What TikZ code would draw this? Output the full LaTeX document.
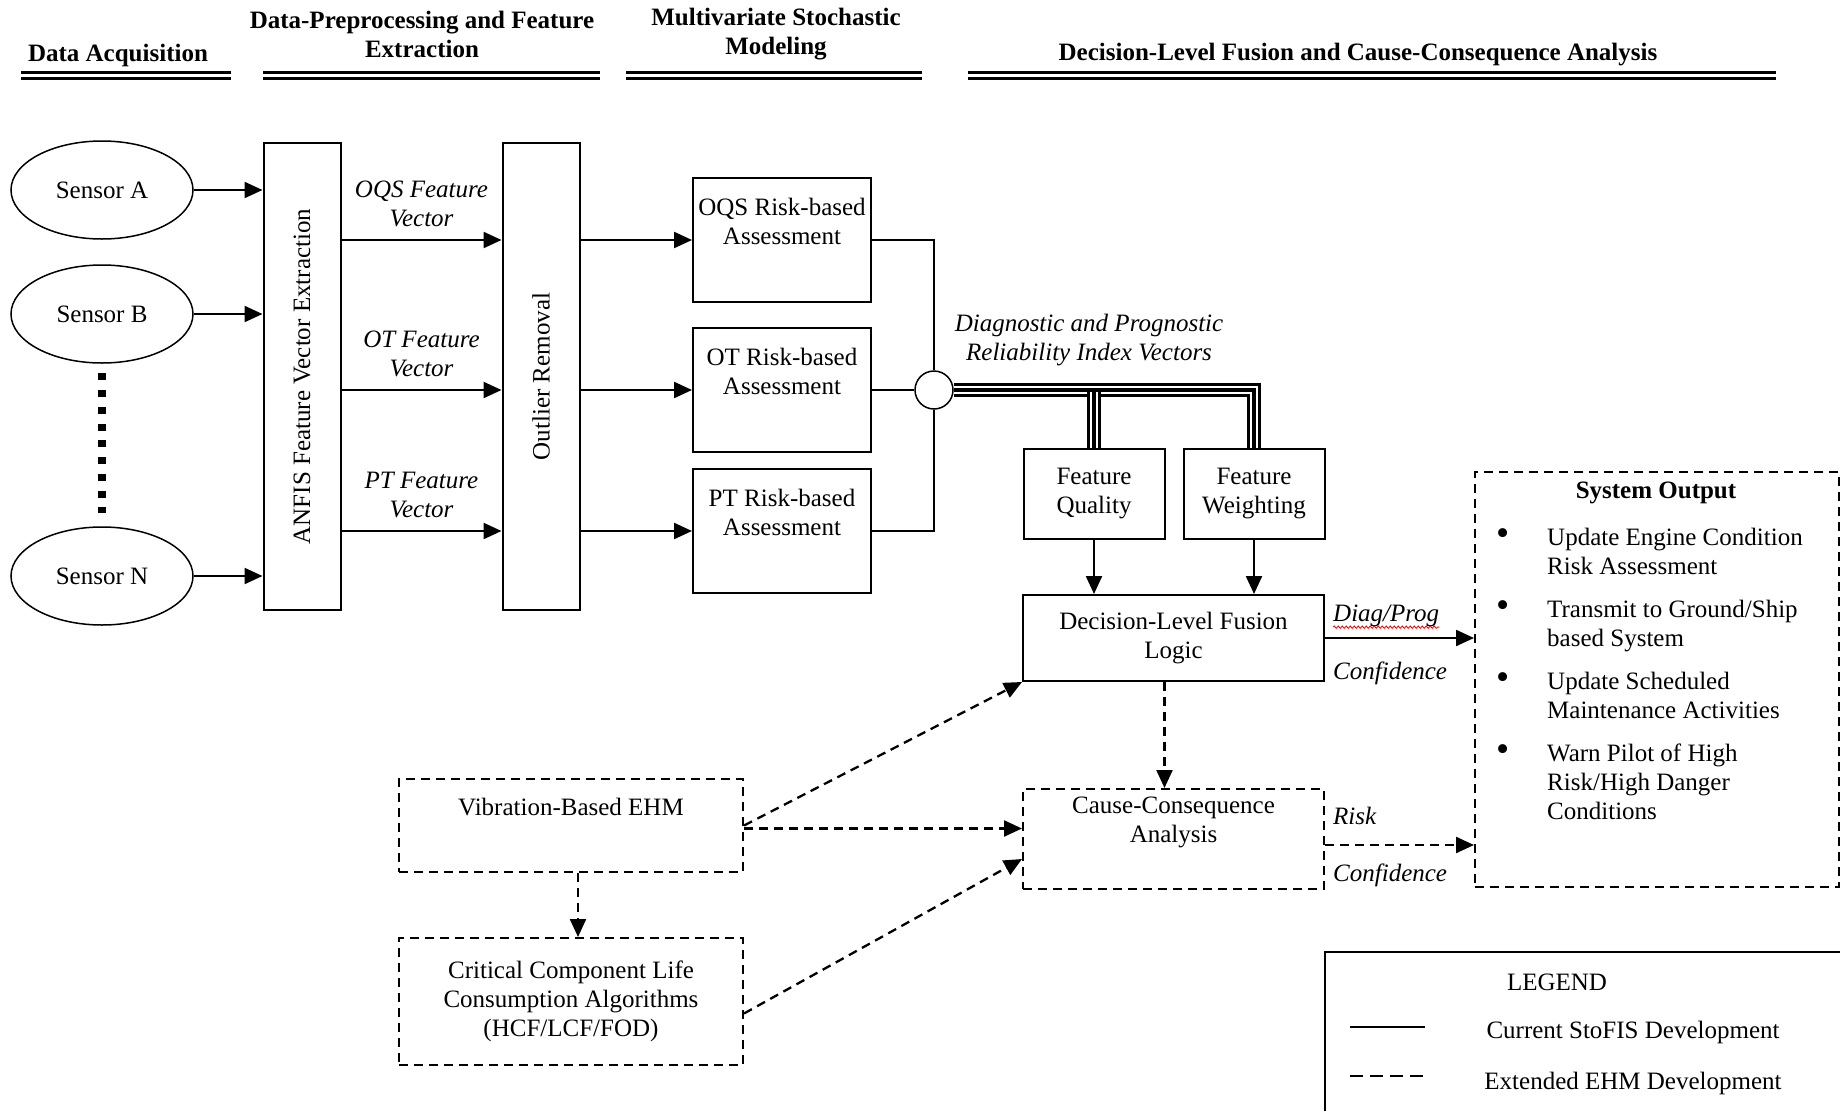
\documentclass[tikz,border=0pt]{standalone}
\usepackage{fontspec}
\setmainfont{Liberation Serif}
\usepackage{graphicx}
\usetikzlibrary{shapes.geometric, arrows.meta, positioning, decorations.pathmorphing}
\newcommand{\diagfont}{\fontsize{25}{29}\selectfont}

\begin{document}
\begin{tikzpicture}[x=1pt, y=-1pt,
        every node/.style={font=\diagfont},
        headtext/.style={font=\diagfont\bfseries, align=center, inner sep=0pt},
        headrule/.style={line width=3pt, double distance=3pt},
        sensornode/.style={draw, ellipse, line width=1.5pt, minimum width=182pt, minimum height=98pt, inner sep=0pt},
        tallbox/.style={draw, line width=2pt, minimum width=77pt, minimum height=467pt, inner sep=0pt},
        riskbox/.style={draw, line width=2pt, minimum width=178pt, minimum height=124pt, align=center, inner sep=0pt},
        plainbox/.style={draw, line width=2pt, align=center, inner sep=0pt},
        dashbox/.style={plainbox, dash pattern=on 9pt off 6pt},
        vlabel/.style={font=\diagfont\itshape, align=center, inner sep=0pt},
        arrow/.style={line width=2.3pt, -{Triangle[length=18pt, width=16pt]}},
        dasharrow/.style={arrow, dash pattern=on 9pt off 6pt},
        wire/.style={line width=2.2pt},
        triple/.style={line width=3.2pt, double distance=8pt}
    ]
        \useasboundingbox (0,0) rectangle (1840,1111);
        \clip (0,0) rectangle (1840,1111);

        % stage headings
        \node[headtext] (hacq) at (118,55) {Data Acquisition};
        \node[headtext] (hpre) at (422,34) {Data-Preprocessing and Feature\\Extraction};
        \node[headtext] (hmod) at (776,34) {Multivariate Stochastic\\Modeling};
        \node[headtext] (hfus) at (1358,55) {Decision-Level Fusion and Cause-Consequence Analysis};
        \draw[headrule] (21,75) -- (231,75);
        \draw[headrule] (263,75) -- (600,75);
        \draw[headrule] (626,75) -- (922,75);
        \draw[headrule] (968,75) -- (1776,75);

        % sensors
        \node[sensornode] (sa) at (102,190) {Sensor A};
        \node[sensornode] (sb) at (102,314) {Sensor B};
        \node[sensornode] (sn) at (102,576) {Sensor N};
        \draw[line width=8pt, dash pattern=on 7pt off 9.75pt] ([yshift=-9.5pt]sb.south) -- ([yshift=13pt]sn.north);

        % feature extraction
        \node[tallbox] (anfis) at (302,376.5) {\rotatebox{90}{ANFIS Feature Vector Extraction}};
        \node[tallbox, right=160pt of anfis] (outlier) {\rotatebox{90}{Outlier Removal}};

        \draw[arrow] (sa.east) -- (sa.east -| anfis.west);
        \draw[arrow] (sb.east) -- (sb.east -| anfis.west);
        \draw[arrow] (sn.east) -- (sn.east -| anfis.west);

        % risk assessment
        \node[riskbox] (oqsrisk) at (782,240) {OQS Risk-based\\Assessment\\\strut};
        \node[riskbox] (otrisk) at (782,390) {OT Risk-based\\Assessment\\\strut};
        \node[riskbox] (ptrisk) at (782,531) {PT Risk-based\\Assessment\\\strut};

        \draw[arrow] (anfis.east |- oqsrisk) -- node[vlabel, above=12pt] {OQS Feature\\Vector} (outlier.west |- oqsrisk);
        \draw[arrow] (anfis.east |- otrisk) -- node[vlabel, above=12pt] {OT Feature\\Vector} (outlier.west |- otrisk);
        \draw[arrow] (anfis.east |- ptrisk) -- node[vlabel, above=12pt] {PT Feature\\Vector} (outlier.west |- ptrisk);

        \draw[arrow] (outlier.east |- oqsrisk) -- (oqsrisk.west);
        \draw[arrow] (outlier.east |- otrisk) -- (otrisk.west);
        \draw[arrow] (outlier.east |- ptrisk) -- (ptrisk.west);

        % junction and reliability vectors
        \node[draw, circle, line width=1.5pt, minimum size=38pt, inner sep=0pt] (junc) at (934,390) {};
        \draw[wire] (oqsrisk.east) -| (junc.north);
        \draw[wire] (otrisk.east) -- (junc.west);
        \draw[wire] (ptrisk.east) -| (junc.south);
        \node[vlabel] (dplabel) at (1089,340) {Diagnostic and Prognostic\\Reliability Index Vectors};

        \node[plainbox, minimum width=141pt, minimum height=90pt] (fq) at (1094,494) {Feature\\Quality};
        \node[plainbox, minimum width=141pt, minimum height=90pt, right=17pt of fq] (fw) {Feature\\Weighting};

        \draw[triple] (junc.east) -| (fw.north);
        \draw[triple] (junc.east -| fq.north) -- (fq.north);
        \draw[line width=3.5pt] (junc.east) -| (fw.north);
        \draw[line width=3.5pt] (junc.east -| fq.north) -- (fq.north);

        % fusion
        \node[plainbox, minimum width=301pt, minimum height=86pt] (dec) at (1173.5,638) {Decision-Level Fusion\\Logic};
        \draw[arrow] (fq.south) -- (fq.south |- dec.north);
        \draw[arrow] (fw.south) -- (fw.south |- dec.north);

        \node[dashbox, minimum width=301pt, minimum height=100pt, below=106pt of dec] (cause) {Cause-Consequence\\Analysis\\\strut};
        \draw[dasharrow] ([xshift=-9pt]dec.south) -- ([xshift=-9pt]cause.north);

        % system output
        \node[dashbox, minimum width=364pt, minimum height=415pt, anchor=north west] (sysout) at (1474,471) {};
        \node[font=\diagfont\bfseries, inner sep=0pt] (systitle) at (1656,493) {System Output};
        \node[anchor=north west, inner sep=0pt] (sysitems) at (1496,525) {
            \begin{tabular}{@{}p{51pt}@{}l@{}}
                \scalebox{1.5}{\textbullet} & Update Engine Condition \\
                & Risk Assessment \\[14pt]
                \scalebox{1.5}{\textbullet} & Transmit to Ground/Ship \\
                & based System \\[14pt]
                \scalebox{1.5}{\textbullet} & Update Scheduled \\
                & Maintenance Activities \\[14pt]
                \scalebox{1.5}{\textbullet} & Warn Pilot of High \\
                & Risk/High Danger \\
                & Conditions
            \end{tabular}
        };

        \draw[arrow] (dec.east) -- (dec.east -| sysout.west);
        \node[vlabel, anchor=west] (diaglbl) at (1333,616) {Diag/Prog};
        \node[vlabel, anchor=west] (conflbl) at (1333,673) {Confidence};
        \draw[red, line width=0.8pt, decorate, decoration={snake, amplitude=1.2pt, segment length=4pt}] (diaglbl.south west) -- (diaglbl.south east);

        \draw[dasharrow] ([yshift=-6pt]cause.east) -- ([yshift=-6pt]cause.east -| sysout.west);
        \node[vlabel, anchor=west] (risklbl) at (1333,816) {Risk};
        \node[vlabel, anchor=west] (conf2lbl) at (1333,875) {Confidence};

        % extended EHM
        \node[dashbox, minimum width=344pt, minimum height=93pt] (vib) at (571,825.5) {Vibration-Based EHM\\\strut};
        \node[dashbox, minimum width=344pt, minimum height=127pt, below=64pt of vib] (crit) {Critical Component Life\\Consumption Algorithms\\(HCF/LCF/FOD)};

        \draw[dasharrow] (vib.east) -- (dec.south west);
        \draw[dasharrow] ([yshift=-3pt]vib.east) -- ([yshift=-3pt]vib.east -| cause.west);
        \draw[dasharrow] ([xshift=7pt]vib.south) -- ([xshift=7pt]crit.north);
        \draw[dasharrow] ([yshift=-12pt]crit.east) -- ([yshift=-20pt]cause.west);

        % legend
        \node[draw, line width=2pt, minimum width=540pt, minimum height=180pt, anchor=north west] (legend) at (1324,951) {};
        \node (legtitle) at (1557,982) {LEGEND};
        \node (legcur) at (1633,1032) {Current StoFIS Development};
        \node (legext) at (1633,1083) {Extended EHM Development};
        \draw[wire] (1350,1027) -- (1425,1027);
        \draw[wire, dash pattern=on 13pt off 7pt] (1350,1076) -- (1425,1076);

    \end{tikzpicture}
\end{document}
